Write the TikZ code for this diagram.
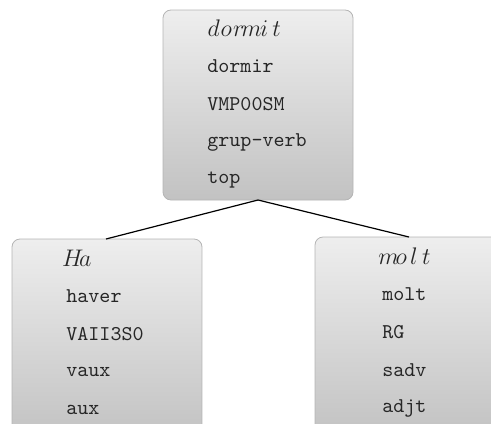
\documentclass[tikz,border=0pt]{standalone}
\usetikzlibrary{positioning}
\definecolor{boxtop}{HTML}{EEEEEE}
\definecolor{boxbot}{HTML}{C2C2C2}
\definecolor{boxline}{HTML}{B4B4B4}
\newcommand{\mch}[1]{\makebox[6.3pt][c]{\fontsize{12}{14}\selectfont$#1$}}
\begin{document}
\begin{tikzpicture}[x=0.5pt,y=-0.5pt,
  fbox/.style={draw=boxline,rounded corners=4pt,top color=boxtop,bottom color=boxbot,
    minimum width=95pt,minimum height=95pt,inner sep=0pt},
  lbl/.style={anchor=west,inner sep=0pt,font=\fontsize{10.5}{12}\selectfont\ttfamily,text=black!85},
  edge/.style={draw=black,line width=0.6pt}]
\useasboundingbox (0,0) rectangle (491,423);
\clip (0,0) rectangle (491,423);
\node[fbox] (top) at (258,105) {};
\node[fbox,minimum height=100pt] (left) at (107,339) {};
\node[fbox,minimum height=100pt] (right) at (410,337) {};
\coordinate (tb) at (258,200);
\coordinate (lt) at (106,239);
\coordinate (rt) at (409,237);
\draw[edge] (tb) -- (lt);
\draw[edge] (tb) -- (rt);
% top
\node[lbl] (t1) at (207,28) {\mch{d}\mch{o}\mch{r}\mch{m}\mch{i}\mch{t}};
\node[lbl] (t2) at (207,66) {dormir};
\node[lbl] (t3) at (207,104) {VMP00SM};
\node[lbl] (t4) at (207,142) {grup-verb};
\node[lbl] (t5) at (207,180) {top};
% left
\node[lbl] (l1) at (66,258) {\mch{H}\mch{a}};
\node[lbl] (l2) at (66,296) {haver};
\node[lbl] (l3) at (66,334) {VAII3S0};
\node[lbl] (l4) at (66,372) {vaux};
\node[lbl] (l5) at (66,410) {aux};
% right
\node[lbl] (r1) at (382,256) {\mch{m}\mch{o}\mch{l}\mch{t}};
\node[lbl] (r2) at (382,294) {molt};
\node[lbl] (r3) at (382,332) {RG};
\node[lbl] (r4) at (382,370) {sadv};
\node[lbl] (r5) at (382,408) {adjt};
\end{tikzpicture}
\end{document}
